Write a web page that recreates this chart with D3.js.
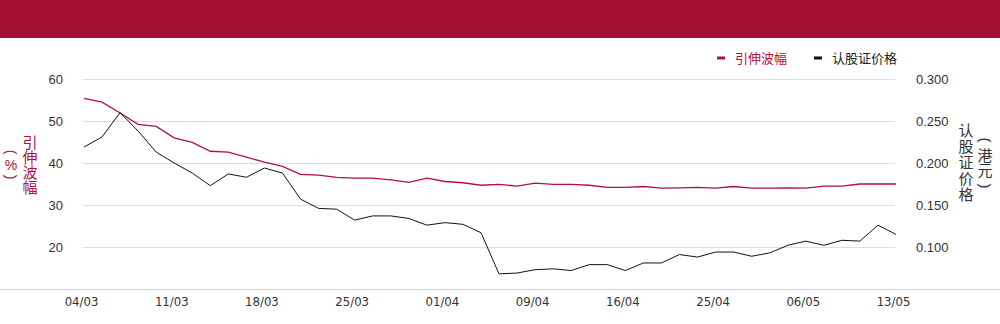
<!DOCTYPE html>
<html>
<head>
<meta charset="utf-8">
<script src="https://cdn.jsdelivr.net/npm/d3@7"></script>
<style>
  body { margin: 0; background: #fff; }
  svg { display: block; font-family: "Liberation Sans", Arial, sans-serif; }
  .tick text { fill: #333; font-size: 13px; }
  .xAxis text { font-family: "Liberation Sans Narrow", "DejaVu Sans Condensed", sans-serif; font-size: 13px; }
</style>
</head>
<body>
<div id="chart"></div>
<script>
var dates = ['04/03','05/03','06/03','07/03','08/03',
             '11/03','12/03','13/03','14/03','15/03',
             '18/03','19/03','20/03','21/03','22/03',
             '25/03','26/03','27/03','28/03','29/03',
             '01/04','02/04','03/04','04/04','08/04',
             '09/04','10/04','11/04','12/04','15/04',
             '16/04','17/04','18/04','23/04','24/04',
             '25/04','26/04','29/04','30/04','03/05',
             '06/05','07/05','08/05','09/05','10/05',
             '13/05'];

// 引伸波幅 (%)
var volatility = [55.4, 54.5, 51.9, 49.2, 48.7, 46.0, 44.9, 42.8, 42.6, 41.4,
                  40.2, 39.2, 37.3, 37.1, 36.6, 36.4, 36.4, 36.0, 35.4, 36.4,
                  35.6, 35.3, 34.7, 34.9, 34.5, 35.2, 34.9, 34.9, 34.7, 34.2,
                  34.2, 34.4, 34.0, 34.1, 34.2, 34.0, 34.4, 34.0, 34.0, 34.1,
                  34.0, 34.5, 34.5, 35.0, 35.0, 35.0];

// 认股证价格 (港元)
var price = [0.219, 0.231, 0.260, 0.238, 0.213, 0.200, 0.188, 0.173, 0.187, 0.183,
             0.194, 0.188, 0.157, 0.146, 0.145, 0.132, 0.137, 0.137, 0.134, 0.126,
             0.129, 0.127, 0.117, 0.068, 0.069, 0.073, 0.074, 0.072, 0.079, 0.079,
             0.072, 0.081, 0.081, 0.091, 0.088, 0.094, 0.094, 0.089, 0.093, 0.102,
             0.107, 0.102, 0.108, 0.107, 0.126, 0.115];

var leftTicks = [20, 30, 40, 50, 60];
var rightTicks = [0.100, 0.150, 0.200, 0.250, 0.300];
var xTickDates = ['04/03','11/03','18/03','25/03','01/04','09/04','16/04','25/04','06/05','13/05'];

var red = '#b0123d', dark = '#111';

var W = 1000, H = 324;
var plot = { left: 83, right: 895, top: 79, bottom: 289 };

var svg = d3.select('#chart').append('svg')
    .attr('width', W)
    .attr('height', H);

// header band
svg.append('rect')
    .attr('x', 0).attr('y', 0)
    .attr('width', W).attr('height', 38)
    .attr('fill', '#a50e33');

var x = d3.scalePoint().domain(dates).range([plot.left + 1, plot.right + 1]);
var yL = d3.scaleLinear().domain([10, 60]).range([plot.bottom, plot.top]);
var yR = d3.scaleLinear().domain([0.05, 0.30]).range([plot.bottom, plot.top]);

// grid
svg.append('g')
    .selectAll('line')
    .data(leftTicks)
    .enter().append('line')
    .attr('x1', plot.left).attr('x2', plot.right)
    .attr('y1', d => yL(d) + 0.5).attr('y2', d => yL(d) + 0.5)
    .attr('stroke', '#dedede');

// baseline across full width
svg.append('line')
    .attr('x1', 0).attr('x2', W)
    .attr('y1', plot.bottom + 0.5).attr('y2', plot.bottom + 0.5)
    .attr('stroke', '#cfcfcf');

// axes
var leftAxis = d3.axisLeft(yL).tickValues(leftTicks).tickSize(0).tickPadding(0);
svg.append('g')
    .attr('class', 'yAxis')
    .attr('transform', 'translate(63,0)')
    .call(leftAxis)
    .call(g => g.select('.domain').remove());

var rightAxis = d3.axisRight(yR).tickValues(rightTicks).tickSize(0).tickPadding(0)
    .tickFormat(d3.format('.3f'));
svg.append('g')
    .attr('class', 'yAxis')
    .attr('transform', 'translate(916,0)')
    .call(rightAxis)
    .call(g => g.select('.domain').remove());

var xAxis = d3.axisBottom(x).tickValues(xTickDates).tickSize(0).tickPadding(0);
svg.append('g')
    .attr('class', 'xAxis')
    .attr('transform', 'translate(-3,' + 297 + ')')
    .call(xAxis)
    .call(g => g.select('.domain').remove());

// lines
var lineL = d3.line().x((d, i) => x(dates[i])).y(d => yL(d));
var lineR = d3.line().x((d, i) => x(dates[i])).y(d => yR(d));

svg.append('path')
    .datum(volatility)
    .attr('d', lineL)
    .attr('fill', 'none')
    .attr('stroke', red)
    .attr('stroke-width', 1.3);

svg.append('path')
    .datum(price)
    .attr('d', lineR)
    .attr('fill', 'none')
    .attr('stroke', dark)
    .attr('stroke-width', 1);

// vertical axis titles
function vtitle(txt, cx, cy, color, size, spacing) {
    svg.append('text')
        .attr('x', cx).attr('y', cy)
        .attr('text-anchor', 'middle')
        .style('writing-mode', 'vertical-rl')
        .style('font-family', '"Noto Sans CJK SC", sans-serif')
        .style('font-size', size + 'px')
        .style('letter-spacing', spacing + 'px')
        .attr('fill', color)
        .text(txt);
}
// brackets turned sideways, as in vertical text
function vbracket(ch, cx, cy, color, size) {
    svg.append('text')
        .attr('x', cx).attr('y', cy)
        .attr('text-anchor', 'middle')
        .attr('dominant-baseline', 'central')
        .attr('transform', 'rotate(90,' + cx + ',' + cy + ')')
        .style('font-size', size + 'px')
        .attr('fill', color)
        .text(ch);
}

vtitle('引伸波幅', 30, 165, red, 15, 0);
vbracket('(', 11, 152, red, 14);
svg.append('text')
    .attr('x', 11).attr('y', 165)
    .attr('text-anchor', 'middle')
    .attr('dominant-baseline', 'central')
    .style('font-size', '14px')
    .attr('fill', red)
    .text('%');
vbracket(')', 11, 177, red, 14);

vtitle('认股证价格', 966, 163, '#333', 15, 1);
vbracket('(', 985, 140, '#333', 15);
vtitle('港元', 985, 163, '#333', 15, 0);
vbracket(')', 985, 186, '#333', 15);

// legend
var legend = [{ name: '引伸波幅', color: red, x: 717 }, { name: '认股证价格', color: dark, x: 814 }];
var lg = svg.append('g').selectAll('g').data(legend).enter().append('g')
    .attr('transform', d => 'translate(' + d.x + ',58)');
lg.append('rect')
    .attr('x', 0).attr('y', -1.5)
    .attr('width', 8).attr('height', 3)
    .attr('fill', d => d.color);
lg.append('text')
    .attr('x', 18).attr('y', 0)
    .attr('dy', '0.35em')
    .style('font-family', '"Noto Sans CJK SC", sans-serif')
    .style('font-size', '13px')
    .attr('fill', d => d.color === dark ? '#222' : d.color)
    .text(d => d.name);
</script>
</body>
</html>
